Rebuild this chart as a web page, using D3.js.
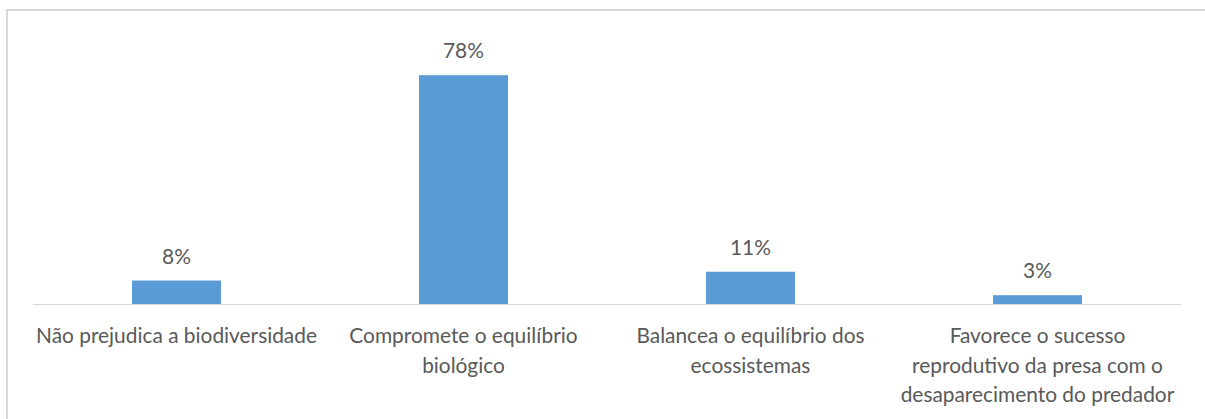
<!DOCTYPE html>
<html>
<head>
<meta charset="utf-8">
<script src="https://cdn.jsdelivr.net/npm/d3@7"></script>
<style>
  body { margin: 0; background: #fff; }
  svg { display: block; }
  text { font-family: Lato, "Open Sans", sans-serif; fill: #595959; }
</style>
</head>
<body>
<svg id="chart"></svg>
<script>
// categories (each entry = wrapped lines of the axis label)
var categories = ["nao", "comp", "bal", "fav"];
var categoryLines = [
    ["Não prejudica a biodiversidade"],
    ["Compromete o equilíbrio", "biológico"],
    ["Balancea o equilíbrio dos", "ecossistemas"],
    ["Favorece o sucesso", "reprodutivo da presa com o", "desaparecimento do predador"]
];
var values = [0.08, 0.78, 0.11, 0.03];
var valueLabels = ["8%", "78%", "11%", "3%"];

var width = 1205,
    height = 419;

var svg = d3.select("#chart")
    .attr("width", width)
    .attr("height", height);

// chart area border (right and bottom sides fall outside the picture)
svg.append("rect")
    .attr("x", 7)
    .attr("y", 10)
    .attr("width", width + 10)
    .attr("height", height + 10)
    .attr("fill", "none")
    .attr("stroke", "#d9d9d9")
    .attr("stroke-width", 2);

var x = d3.scaleBand()
    .domain(categories)
    .range([33, 1181])
    .paddingInner(0.69)
    .paddingOuter(0.345);

var y = d3.scaleLinear()
    .domain([0, 0.9])
    .range([304, 40]);

// fit the font size to the label width seen in the picture
var probe = svg.append("text").attr("font-size", 20).text(categoryLines[0][0]);
var fontSize = 20 * 281 / probe.node().getComputedTextLength();
probe.remove();

svg.selectAll(".bar")
    .data(values)
    .enter().append("rect")
    .attr("class", "bar")
    .attr("x", function(d, i) { return x(categories[i]); })
    .attr("width", x.bandwidth())
    .attr("y", function(d) { return y(d); })
    .attr("height", function(d) { return y(0) - y(d); })
    .attr("fill", "#5b9bd5");

// baseline
svg.append("line")
    .attr("x1", x.range()[0])
    .attr("x2", x.range()[1])
    .attr("y1", y(0) + 0.5)
    .attr("y2", y(0) + 0.5)
    .attr("stroke", "#d9d9d9")
    .attr("stroke-width", 1);

svg.selectAll(".val")
    .data(values)
    .enter().append("text")
    .attr("class", "val")
    .attr("x", function(d, i) { return x(categories[i]) + x.bandwidth() / 2; })
    .attr("y", function(d) { return y(d) - 17; })
    .attr("text-anchor", "middle")
    .attr("font-size", fontSize)
    .text(function(d, i) { return valueLabels[i]; });

var labels = svg.selectAll(".cat")
    .data(categoryLines)
    .enter().append("text")
    .attr("class", "cat")
    .attr("text-anchor", "middle")
    .attr("font-size", fontSize);

labels.selectAll("tspan")
    .data(function(d, i) { return d.map(function(l) { return {line: l, i: i}; }); })
    .enter().append("tspan")
    .attr("x", function(d) { return x(categories[d.i]) + x.bandwidth() / 2; })
    .attr("y", function(d, j) { return 343 + j * 29.5; })
    .text(function(d) { return d.line; });
</script>
</body>
</html>
